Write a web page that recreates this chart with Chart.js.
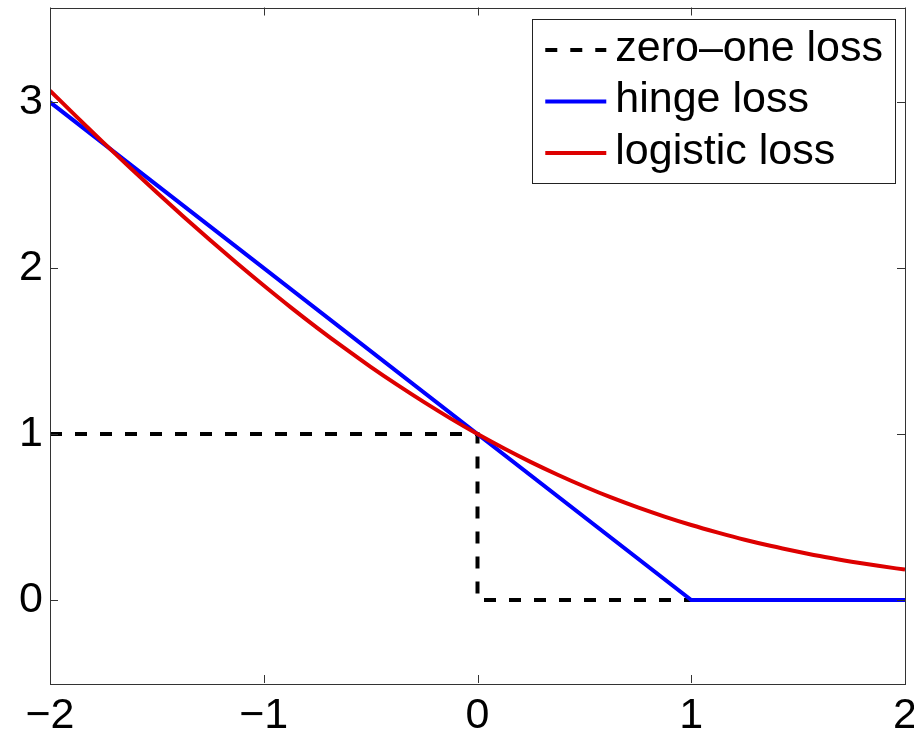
<!DOCTYPE html>
<html>
<head>
<meta charset="utf-8">
<script src="https://cdn.jsdelivr.net/npm/chart.js@4.4.1/dist/chart.umd.min.js"></script>
<style>
  html, body { margin: 0; padding: 0; background: #fff; }
  #wrap { width: 914px; height: 733px; }
</style>
</head>
<body>
<div id="wrap"><canvas id="c" width="914" height="733"></canvas></div>
<script>
// ---- data ----
const xTicks = [-2, -1, 0, 1, 2];
const yTicks = [0, 1, 2, 3];

const zeroOneX = [-2, 0, 0, 2];
const zeroOneY = [1, 1, 0, 0];

const hingeX = [-2, 1, 2];
const hingeY = [3, 0, 0];

const logisticX = [-2, -1.875, -1.75, -1.625, -1.5, -1.375, -1.25, -1.125, -1, -0.875, -0.75, -0.625, -0.5, -0.375, -0.25, -0.125,
                   0, 0.125, 0.25, 0.375, 0.5, 0.625, 0.75, 0.875, 1, 1.125, 1.25, 1.375, 1.5, 1.625, 1.75, 1.875, 2];
const logisticY = [3.069, 2.911, 2.756, 2.604, 2.455, 2.309, 2.167, 2.029, 1.895, 1.765, 1.640, 1.520, 1.405, 1.296, 1.192, 1.093,
                   1.000, 0.913, 0.831, 0.755, 0.684, 0.618, 0.558, 0.503, 0.452, 0.406, 0.363, 0.325, 0.291, 0.259, 0.231, 0.206, 0.183];

const seriesLabels = ['zero\u2013one loss', 'hinge loss', 'logistic loss'];

function pts(xs, ys) { return xs.map((x, i) => ({ x: x, y: ys[i] })); }

const FONT = '"Liberation Sans", Arial, Helvetica, sans-serif';
const FS = 43;

function fmt(v) { return v < 0 ? '\u2212' + Math.abs(v) : String(v); }

// inward tick marks on all four sides + box
const boxTicks = {
  id: 'boxTicks',
  afterDraw(chart) {
    const ctx = chart.ctx, a = chart.chartArea;
    const xs = chart.scales.x, ys = chart.scales.y;
    const L = 8;
    ctx.save();
    ctx.strokeStyle = '#333';
    ctx.lineWidth = 1;
    ctx.beginPath();
    xTicks.forEach(v => {
      const px = Math.round(xs.getPixelForValue(v)) + 0.5;
      ctx.moveTo(px, a.bottom); ctx.lineTo(px, a.bottom - L);
      ctx.moveTo(px, a.top); ctx.lineTo(px, a.top + L);
    });
    yTicks.forEach(v => {
      const py = Math.round(ys.getPixelForValue(v)) + 0.5;
      ctx.moveTo(a.left, py); ctx.lineTo(a.left + L, py);
      ctx.moveTo(a.right, py); ctx.lineTo(a.right - L, py);
    });
    ctx.stroke();
    ctx.strokeRect(Math.round(a.left) + 0.5, Math.round(a.top) + 0.5,
                   Math.round(a.right - a.left), Math.round(a.bottom - a.top));
    ctx.restore();
  }
};

// legend box inside the plot, upper right
const boxLegend = {
  id: 'boxLegend',
  afterDraw(chart) {
    const ctx = chart.ctx, a = chart.chartArea;
    const ds = chart.data.datasets;
    ctx.save();
    ctx.font = FS + 'px ' + FONT;
    const sampleW = 61, gap = 9, padL = 13, padR = 12;
    let maxW = 0;
    ds.forEach(d => { maxW = Math.max(maxW, ctx.measureText(d.label).width); });
    const w = padL + sampleW + gap + maxW + padR;
    const right = a.right - 10;
    const left = right - w;
    const top = a.top + 11.5;
    const rowH = 51.5;
    const firstY = top + 31;
    const h = 164;
    ctx.fillStyle = '#fff';
    ctx.fillRect(left, top, w, h);
    ctx.strokeStyle = '#222';
    ctx.lineWidth = 1;
    ctx.strokeRect(Math.round(left) + 0.5, Math.round(top) + 0.5, Math.round(w), h);
    ds.forEach((d, i) => {
      const y = firstY + i * rowH;
      ctx.beginPath();
      ctx.strokeStyle = d.borderColor;
      ctx.lineWidth = d.borderWidth;
      ctx.setLineDash(d.borderDash || []);
      ctx.moveTo(left + padL, y);
      ctx.lineTo(left + padL + sampleW, y);
      ctx.stroke();
      ctx.setLineDash([]);
      ctx.fillStyle = '#000';
      ctx.textAlign = 'left';
      ctx.textBaseline = 'middle';
      ctx.fillText(d.label, left + padL + sampleW + gap, y - 1);
    });
    ctx.restore();
  }
};

new Chart(document.getElementById('c'), {
  type: 'scatter',
  data: {
    datasets: [
      {
        label: seriesLabels[0],
        data: pts(zeroOneX, zeroOneY),
        showLine: true,
        borderColor: '#000',
        borderWidth: 4,
        borderDash: [12, 13],
        pointRadius: 0,
        tension: 0,
        order: 3
      },
      {
        label: seriesLabels[1],
        data: pts(hingeX, hingeY),
        showLine: true,
        borderColor: '#0000ff',
        borderWidth: 4,
        pointRadius: 0,
        tension: 0,
        order: 2
      },
      {
        label: seriesLabels[2],
        data: pts(logisticX, logisticY),
        showLine: true,
        borderColor: '#dd0000',
        borderWidth: 4,
        pointRadius: 0,
        cubicInterpolationMode: 'monotone',
        order: 1
      }
    ]
  },
  options: {
    responsive: false,
    animation: false,
    devicePixelRatio: 1,
    layout: { padding: { left: 0, right: 9, top: 7.5, bottom: 0 } },
    plugins: { legend: { display: false }, tooltip: { enabled: false } },
    scales: {
      x: {
        type: 'linear',
        min: -2, max: 2,
        grid: { display: false, drawTicks: false },
        border: { display: false },
        afterBuildTicks(s) { s.ticks = xTicks.map(v => ({ value: v })); },
        afterFit(s) { s.height = 50; s.paddingLeft = 0; s.paddingRight = 0; },
        ticks: {
          color: '#000',
          padding: 7,
          maxRotation: 0,
          autoSkip: false,
          font: { family: FONT, size: FS },
          callback: v => fmt(v)
        }
      },
      y: {
        type: 'linear',
        min: -0.5, max: 3.57,
        grid: { display: false, drawTicks: false },
        border: { display: false },
        afterBuildTicks(s) { s.ticks = yTicks.map(v => ({ value: v })); },
        afterFit(s) { s.width = 50; s.paddingTop = 0; s.paddingBottom = 0; },
        ticks: {
          color: '#000',
          padding: 7,
          autoSkip: false,
          font: { family: FONT, size: FS },
          callback: v => fmt(v)
        }
      }
    }
  },
  plugins: [boxTicks, boxLegend]
});
</script>
</body>
</html>
